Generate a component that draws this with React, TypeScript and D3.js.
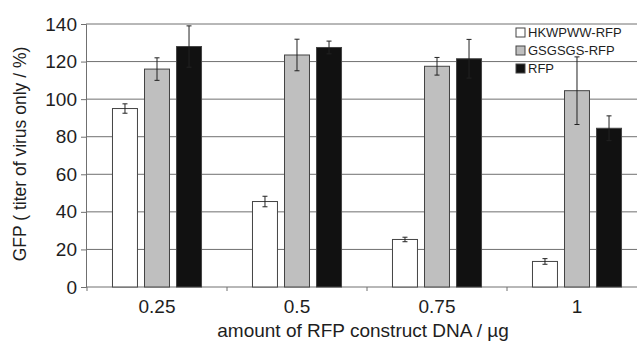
import { useEffect, useRef } from 'react';
import * as d3 from 'd3';

const width = 637;
const height = 343;

// categories on the x axis
const categories = ['0.25', '0.5', '0.75', '1'];
const seriesNames = ['HKWPWW-RFP', 'GSGSGS-RFP', 'RFP'];
const seriesColors = ['#ffffff', '#bfbfbf', '#111111'];

// mean values per series (same order as categories)
const hkwpwwValues = [95, 45.5, 25.3, 13.6];
const gsgsgsValues = [116, 123.5, 117.5, 104.5];
const rfpValues = [128, 127.5, 121.5, 84.5];

// error (+/-) per series
const hkwpwwErr = [2.5, 2.8, 1.2, 1.5];
const gsgsgsErr = [6, 8.4, 4.7, 18];
const rfpErr = [11, 3.4, 10.3, 6.6];

const yTicks = [0, 20, 40, 60, 80, 100, 120, 140];

export default function App() {
    const ref = useRef(null);

    useEffect(() => {
        const svg = d3.select(ref.current);
        svg.selectAll('*').remove();

        const values = [hkwpwwValues, gsgsgsValues, rfpValues];
        const errors = [hkwpwwErr, gsgsgsErr, rfpErr];

        const x0 = d3.scaleBand().domain(categories).range([87, 647]).paddingInner(0.364).paddingOuter(0.182);
        const x1 = d3.scaleBand().domain(seriesNames).range([0, x0.bandwidth()]).paddingInner(0.22);
        const y = d3.scaleLinear().domain([0, 140]).range([287, 24]);

        const font = 'Liberation Sans, Arial, sans-serif';

        // grid lines
        svg.append('g')
            .selectAll('line')
            .data(yTicks.filter((t) => t > 0))
            .join('line')
            .attr('x1', 86)
            .attr('x2', 647)
            .attr('y1', (d) => y(d))
            .attr('y2', (d) => y(d))
            .attr('stroke', '#707070')
            .attr('stroke-width', 1);

        // y axis
        const yAxisG = svg.append('g').attr('transform', 'translate(86,0)');
        yAxisG
            .call(d3.axisLeft(y).tickValues(yTicks).tickSize(5).tickPadding(4))
            .call((g) => g.select('.domain').attr('stroke', '#707070'))
            .call((g) => g.selectAll('.tick line').attr('stroke', '#707070'))
            .call((g) =>
                g.selectAll('.tick text').attr('font-family', font).attr('font-size', 19).attr('fill', '#1e1e1e')
            );

        // x axis
        const boundaries = [87, 227, 367, 507, 647];
        const xAxisG = svg.append('g');
        xAxisG
            .append('line')
            .attr('x1', 86)
            .attr('x2', 647)
            .attr('y1', y(0))
            .attr('y2', y(0))
            .attr('stroke', '#707070');
        xAxisG
            .selectAll('.xt')
            .data(boundaries)
            .join('line')
            .attr('x1', (d) => d)
            .attr('x2', (d) => d)
            .attr('y1', y(0))
            .attr('y2', y(0) + 4)
            .attr('stroke', '#707070');
        xAxisG
            .selectAll('text')
            .data(categories)
            .join('text')
            .attr('x', (d) => x0(d) + x0.bandwidth() / 2)
            .attr('y', 313)
            .attr('text-anchor', 'middle')
            .attr('font-family', font)
            .attr('font-size', 19)
            .attr('fill', '#1e1e1e')
            .text((d) => d);

        // bars
        const groups = svg
            .append('g')
            .selectAll('g')
            .data(categories)
            .join('g')
            .attr('transform', (d) => `translate(${x0(d)},0)`);

        groups
            .selectAll('rect')
            .data((_d, i) => seriesNames.map((s, k) => ({ s, k, v: values[k][i], e: errors[k][i] })))
            .join('rect')
            .attr('x', (d) => x1(d.s))
            .attr('y', (d) => y(d.v))
            .attr('width', x1.bandwidth())
            .attr('height', (d) => y(0) - y(d.v))
            .attr('fill', (d) => seriesColors[d.k])
            .attr('stroke', '#444')
            .attr('stroke-width', 1);

        // error bars
        const err = groups
            .selectAll('g.err')
            .data((_d, i) => seriesNames.map((s, k) => ({ s, k, v: values[k][i], e: errors[k][i] })))
            .join('g')
            .attr('class', 'err')
            .attr('stroke', '#222')
            .attr('stroke-width', 1);
        err.append('line')
            .attr('x1', (d) => x1(d.s) + x1.bandwidth() / 2)
            .attr('x2', (d) => x1(d.s) + x1.bandwidth() / 2)
            .attr('y1', (d) => y(d.v - d.e))
            .attr('y2', (d) => y(d.v + d.e));
        err.selectAll('line.cap')
            .data((d) => [d.v - d.e, d.v + d.e].map((t) => ({ t, c: x1(d.s) + x1.bandwidth() / 2 })))
            .join('line')
            .attr('class', 'cap')
            .attr('x1', (d) => d.c - 2.5)
            .attr('x2', (d) => d.c + 2.5)
            .attr('y1', (d) => y(d.t))
            .attr('y2', (d) => y(d.t));

        // legend
        const legend = svg
            .append('g')
            .selectAll('g')
            .data(seriesNames)
            .join('g')
            .attr('transform', (_d, i) => `translate(516,${28 + i * 18})`);
        legend
            .append('rect')
            .attr('width', 9)
            .attr('height', 9)
            .attr('fill', (_d, i) => seriesColors[i])
            .attr('stroke', '#444');
        legend
            .append('text')
            .attr('x', 12)
            .attr('y', 9)
            .attr('font-family', font)
            .attr('font-size', 13)
            .attr('fill', '#1e1e1e')
            .text((d) => d);

        // axis titles
        svg.append('text')
            .attr('x', 363)
            .attr('y', 337)
            .attr('text-anchor', 'middle')
            .attr('font-family', font)
            .attr('font-size', 19)
            .attr('fill', '#1e1e1e')
            .text('amount of RFP construct DNA / µg');
        svg.append('text')
            .attr('transform', 'translate(26,154) rotate(-90)')
            .attr('text-anchor', 'middle')
            .attr('font-family', font)
            .attr('font-size', 17.5)
            .attr('fill', '#1e1e1e')
            .text('GFP ( titer of virus only / %)');
    }, []);

    return (
        <svg
            ref={ref}
            width={width}
            height={height}
            style={{ position: 'absolute', left: 0, top: 0, background: '#fff' }}
        />
    );
}
